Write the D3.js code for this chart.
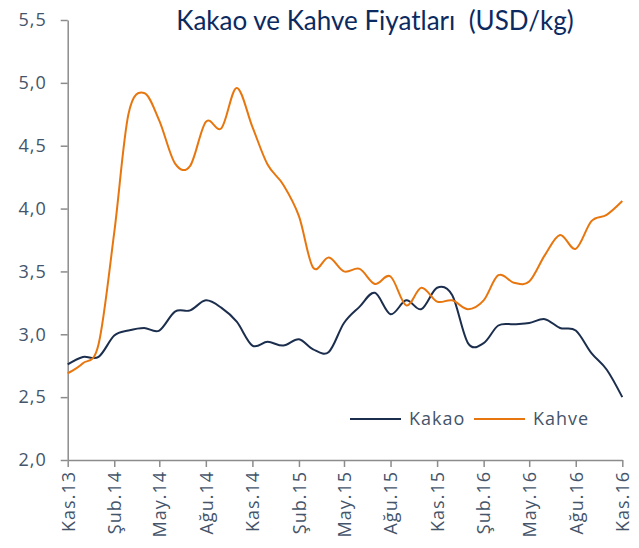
<!DOCTYPE html>
<html>
<head>
<meta charset="utf-8">
<script src="https://cdn.jsdelivr.net/npm/d3@7"></script>
<style>
  body { margin: 0; background: #fff; }
  svg { display: block; font-family: Lato, "Open Sans", sans-serif; }
</style>
</head>
<body>
<svg width="639" height="548"></svg>
<script>
// monthly, Kas.13 .. Kas.16
var months = d3.timeMonth.range(new Date(2013, 10, 1), new Date(2016, 11, 1));

var kakao = [2.76, 2.82, 2.82, 2.99, 3.03, 3.05, 3.03, 3.18, 3.19, 3.27, 3.21, 3.10,
             2.91, 2.94, 2.91, 2.96, 2.88, 2.86, 3.09, 3.22, 3.33, 3.16, 3.27, 3.20,
             3.37, 3.31, 2.93, 2.93, 3.07, 3.08, 3.09, 3.12, 3.05, 3.03, 2.85, 2.72, 2.50];

var kahve = [2.69, 2.77, 2.92, 3.81, 4.75, 4.92, 4.70, 4.36, 4.34, 4.69, 4.64, 4.96,
             4.65, 4.35, 4.19, 3.94, 3.53, 3.61, 3.50, 3.52, 3.40, 3.46, 3.23, 3.37,
             3.26, 3.27, 3.20, 3.27, 3.47, 3.41, 3.42, 3.63, 3.79, 3.68, 3.90, 3.95, 4.06];

var tickLabels = ["Kas.13", "Şub.14", "May.14", "Ağu.14", "Kas.14", "Şub.15", "May.15",
                  "Ağu.15", "Kas.15", "Şub.16", "May.16", "Ağu.16", "Kas.16"];
var yTicks = [2.0, 2.5, 3.0, 3.5, 4.0, 4.5, 5.0, 5.5];

var series = [
  {name: "Kakao", values: kakao, color: "#1c2e4d"},
  {name: "Kahve", values: kahve, color: "#e8760f"}
];

var svg = d3.select("svg");

var x = d3.scaleTime()
  .domain([months[0], months[months.length - 1]])
  .range([67.7, 622.3]);

var y = d3.scaleLinear()
  .domain([2, 5.5])
  .range([460, 20]);

// title
svg.append("text")
  .attr("x", 375)
  .attr("y", 30)
  .attr("text-anchor", "middle")
  .style("font-size", "26px")
  .style("white-space", "pre")
  .style("fill", "#0b2a5f")
  .text("Kakao ve Kahve Fiyatları  (USD/kg)");

// y axis
var yAxis = svg.append("g")
  .attr("transform", "translate(" + x.range()[0] + ",0)")
  .call(d3.axisLeft(y)
    .tickValues(yTicks)
    .tickSize(7)
    .tickSizeOuter(0)
    .tickPadding(14)
    .tickFormat(d => d.toFixed(1).replace(".", ",")));

// x axis
var tickDates = tickLabels.map((d, i) => months[i * 3]);
var xAxis = svg.append("g")
  .attr("transform", "translate(0," + y(2) + ")")
  .call(d3.axisBottom(x)
    .tickValues(tickDates)
    .tickSize(7)
    .tickSizeOuter(0)
    .tickFormat((d, i) => tickLabels[i]));

xAxis.selectAll("text")
  .attr("transform", "rotate(-90)")
  .attr("x", -11)
  .attr("y", 0)
  .attr("dy", "0.35em")
  .style("text-anchor", "end");

svg.selectAll(".domain, .tick line")
  .attr("stroke", "#8c8c8c")
  .attr("stroke-width", 1.5);

svg.selectAll(".tick text")
  .style("font-size", "18px")
  .style("letter-spacing", "1px")
  .style("font-family", "'Open Sans', sans-serif")
  .style("fill", "#44546a");

// lines
var line = d3.line()
  .x((d, i) => x(months[i]))
  .y(d => y(d))
  .curve(d3.curveCardinal);

svg.selectAll(".series")
  .data(series)
  .enter()
  .append("path")
    .classed("series", true)
    .attr("fill", "none")
    .attr("stroke", d => d.color)
    .attr("stroke-width", 2)
    .attr("d", d => line(d.values));

// legend
var legend = svg.selectAll(".legend")
  .data(series)
  .enter()
  .append("g")
    .classed("legend", true)
    .attr("transform", (d, i) => "translate(" + (350 + i * 124) + ",419)");

legend.append("line")
  .attr("x1", 0)
  .attr("x2", 51)
  .attr("y1", 0)
  .attr("y2", 0)
  .attr("stroke", d => d.color)
  .attr("stroke-width", 2);

legend.append("text")
  .attr("x", 59)
  .attr("dy", "0.35em")
  .style("font-size", "18px")
  .style("letter-spacing", "1px")
  .style("font-family", "'Open Sans', sans-serif")
  .style("fill", "#44546a")
  .text(d => d.name);
</script>
</body>
</html>
